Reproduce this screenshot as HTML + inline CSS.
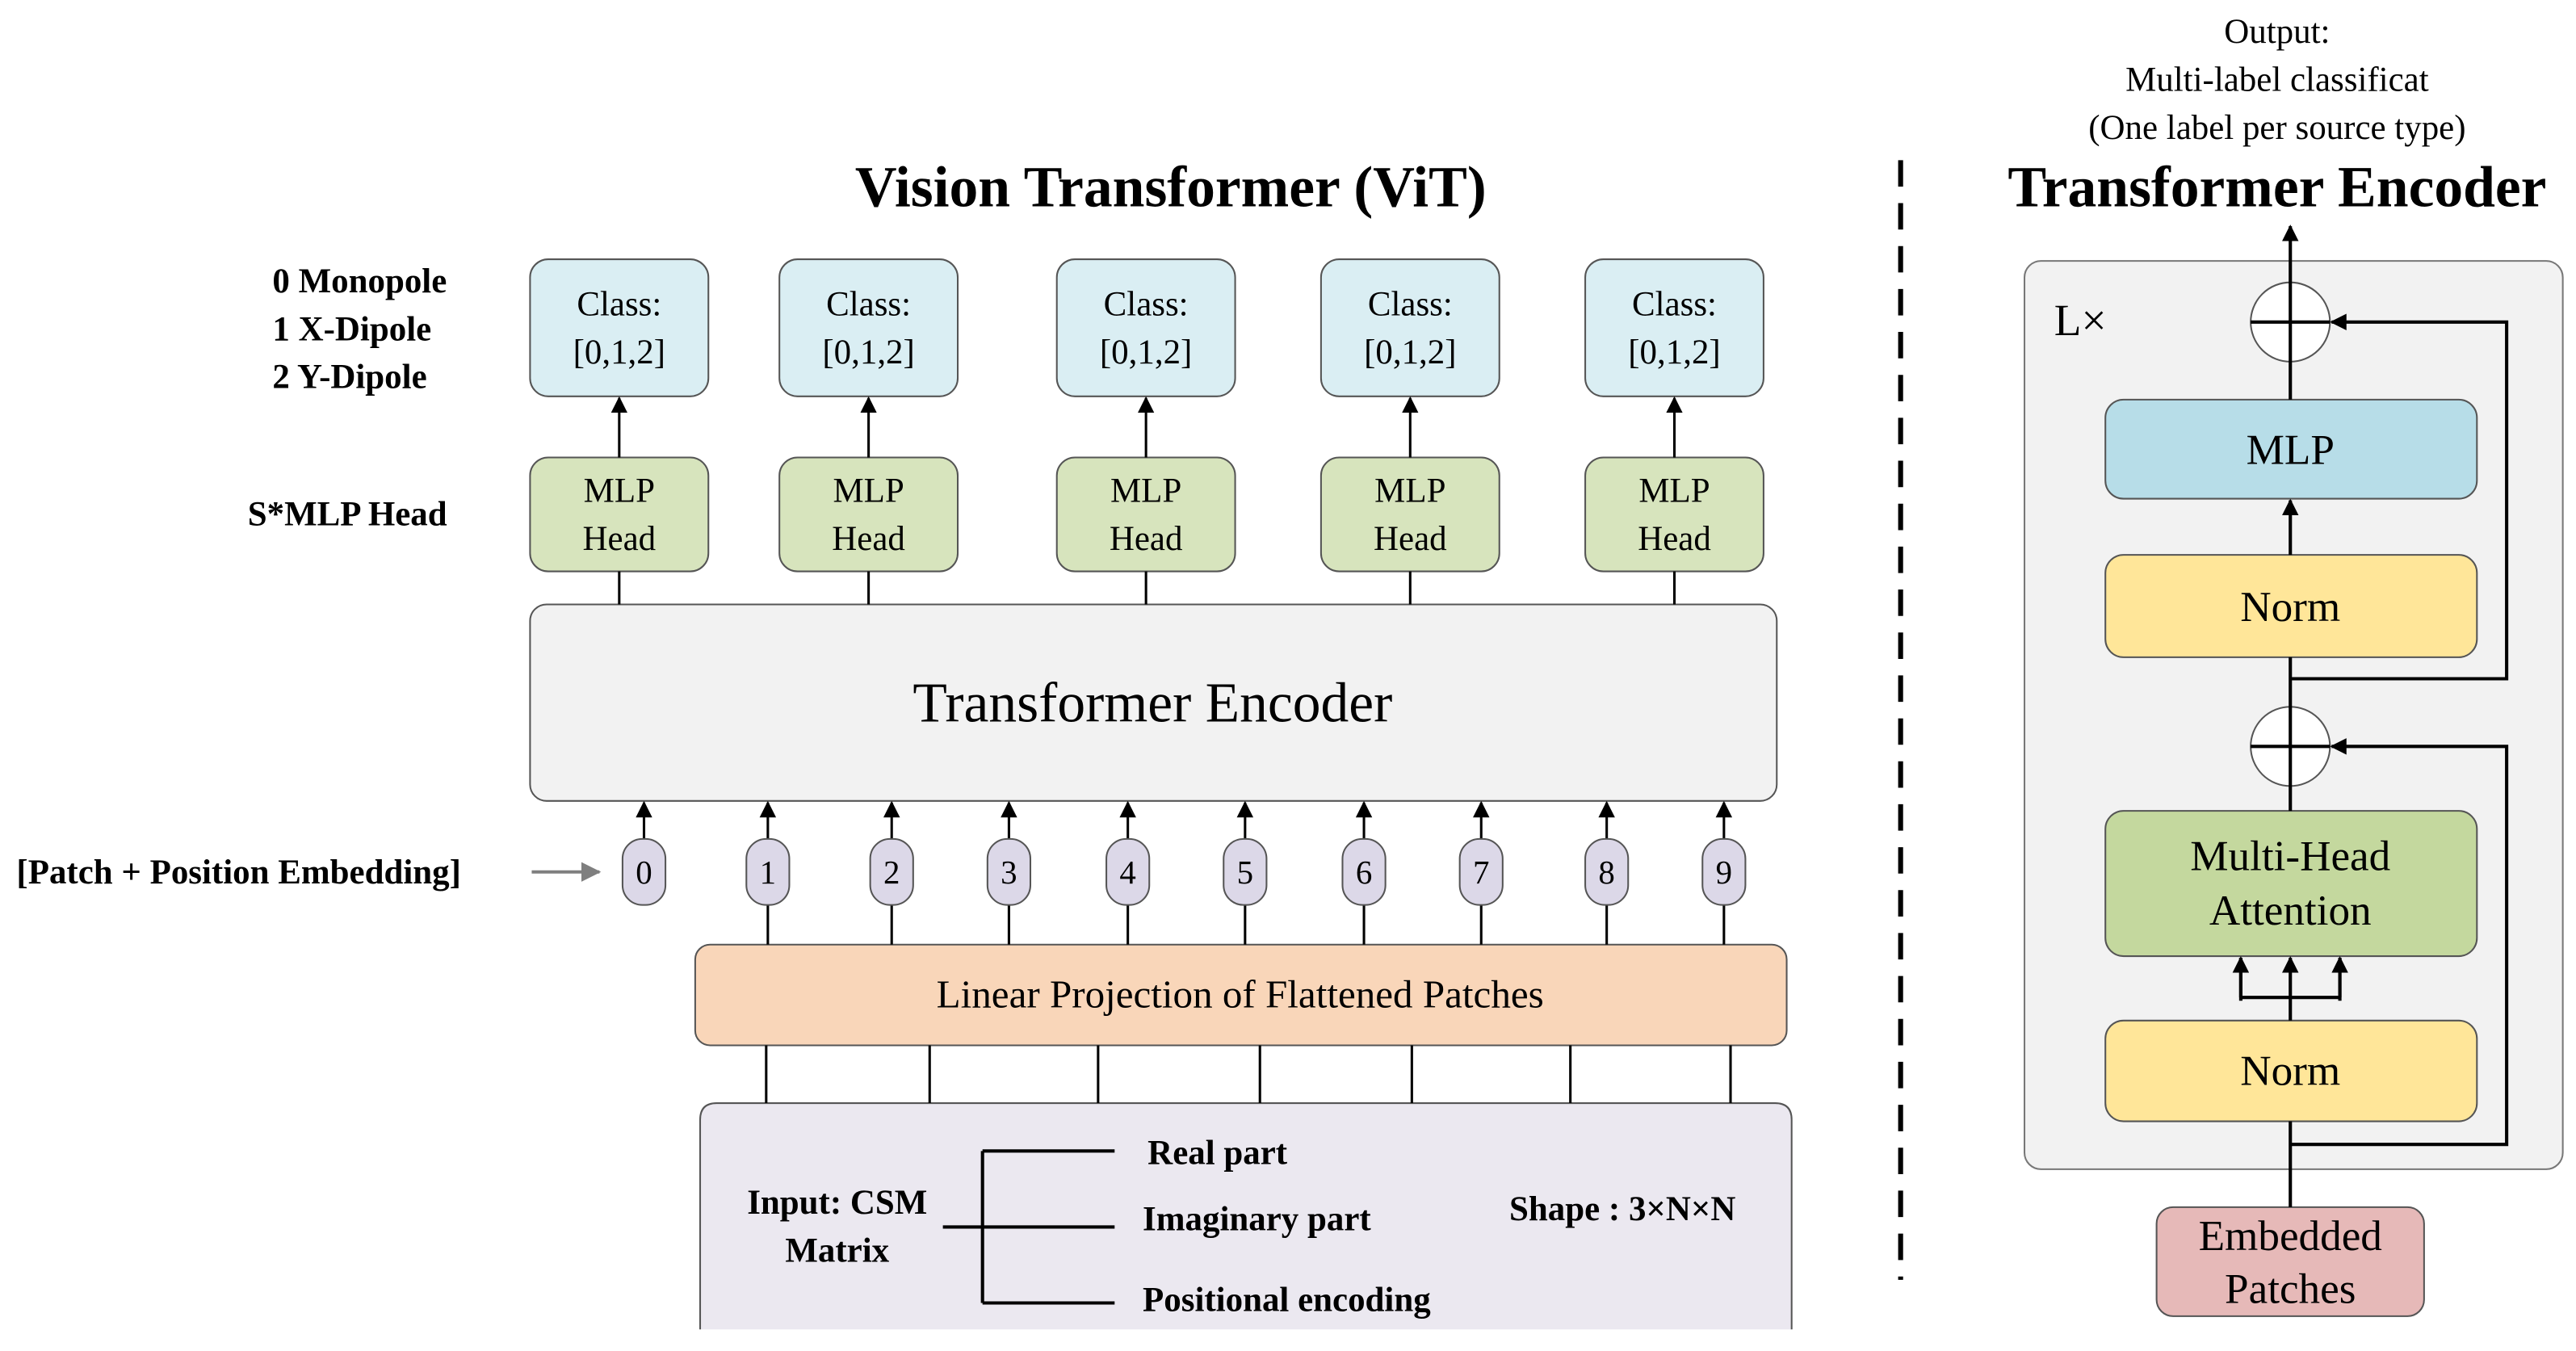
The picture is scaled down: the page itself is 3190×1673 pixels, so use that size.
<!DOCTYPE html>
<html><head><meta charset="utf-8"><style>html,body{margin:0;padding:0;background:#fff}svg{display:block}</style></head>
<body>
<svg width="3190" height="1673" viewBox="0 0 1560 818.1" preserveAspectRatio="none" xmlns="http://www.w3.org/2000/svg" font-family="'Liberation Serif', serif">
<defs>
<marker id="a" markerWidth="10" markerHeight="10" refX="9" refY="5" orient="auto" markerUnits="userSpaceOnUse"><path d="M0,0 L10,5 L0,10 z" fill="#000"/></marker>
<marker id="g" markerWidth="12" markerHeight="12" refX="11" refY="6" orient="auto" markerUnits="userSpaceOnUse"><path d="M0,0 L12,6 L0,12 z" fill="#7f7f7f"/></marker>
</defs>
<rect width="1560" height="818.1" fill="#fff"/>
<!-- titles -->
<text x="709" y="125" font-size="35" font-weight="bold" text-anchor="middle">Vision Transformer (ViT)</text>
<text x="1379" y="125" font-size="35" font-weight="bold" text-anchor="middle">Transformer Encoder</text>
<g font-size="21" text-anchor="middle">
<text x="1379" y="26">Output:</text>
<text x="1379" y="55">Multi-label classificat</text>
<text x="1379" y="84">(One label per source type)</text>
</g>
<line x1="1151" y1="97" x2="1151" y2="775" stroke="#000" stroke-width="3" stroke-dasharray="16,10"/>
<!-- left labels -->
<g font-size="21" font-weight="bold">
<text x="165" y="177">0 Monopole</text>
<text x="165" y="206">1 X-Dipole</text>
<text x="165" y="235">2 Y-Dipole</text>
<text x="150" y="318">S*MLP Head</text>
<text x="10" y="535">[Patch + Position Embedding]</text>
</g>
<line x1="322" y1="528" x2="363" y2="528" stroke="#7f7f7f" stroke-width="2" marker-end="url(#g)"/>
<!-- class + heads -->
<g stroke="#555" stroke-width="1">
<g fill="#daeef3">
<rect x="321" y="157" width="108" height="83" rx="11"/>
<rect x="472" y="157" width="108" height="83" rx="11"/>
<rect x="640" y="157" width="108" height="83" rx="11"/>
<rect x="800" y="157" width="108" height="83" rx="11"/>
<rect x="960" y="157" width="108" height="83" rx="11"/>
</g>
<g fill="#d7e4bd">
<rect x="321" y="277" width="108" height="69" rx="11"/>
<rect x="472" y="277" width="108" height="69" rx="11"/>
<rect x="640" y="277" width="108" height="69" rx="11"/>
<rect x="800" y="277" width="108" height="69" rx="11"/>
<rect x="960" y="277" width="108" height="69" rx="11"/>
</g>
<rect x="321" y="366" width="755" height="119" rx="10" fill="#f2f2f2"/>
<rect x="421" y="572" width="661" height="61" rx="9" fill="#f9d6b9"/>
<path d="M424,805 L424,678 Q424,668 434,668 L1075,668 Q1085,668 1085,678 L1085,805" fill="#ebe8f0"/>
</g>
<g font-size="21" text-anchor="middle">
<text x="375" y="191">Class:</text><text x="375" y="220">[0,1,2]</text>
<text x="526" y="191">Class:</text><text x="526" y="220">[0,1,2]</text>
<text x="694" y="191">Class:</text><text x="694" y="220">[0,1,2]</text>
<text x="854" y="191">Class:</text><text x="854" y="220">[0,1,2]</text>
<text x="1014" y="191">Class:</text><text x="1014" y="220">[0,1,2]</text>
<text x="375" y="304">MLP</text><text x="375" y="333">Head</text>
<text x="526" y="304">MLP</text><text x="526" y="333">Head</text>
<text x="694" y="304">MLP</text><text x="694" y="333">Head</text>
<text x="854" y="304">MLP</text><text x="854" y="333">Head</text>
<text x="1014" y="304">MLP</text><text x="1014" y="333">Head</text>
</g>
<text x="698" y="437" font-size="34" text-anchor="middle">Transformer Encoder</text>
<text x="751" y="610" font-size="24" text-anchor="middle">Linear Projection of Flattened Patches</text>
<g stroke="#000" stroke-width="1.5">
<line x1="375" y1="277" x2="375" y2="241" marker-end="url(#a)"/>
<line x1="526" y1="277" x2="526" y2="241" marker-end="url(#a)"/>
<line x1="694" y1="277" x2="694" y2="241" marker-end="url(#a)"/>
<line x1="854" y1="277" x2="854" y2="241" marker-end="url(#a)"/>
<line x1="1014" y1="277" x2="1014" y2="241" marker-end="url(#a)"/>
<line x1="375" y1="346" x2="375" y2="366"/>
<line x1="526" y1="346" x2="526" y2="366"/>
<line x1="694" y1="346" x2="694" y2="366"/>
<line x1="854" y1="346" x2="854" y2="366"/>
<line x1="1014" y1="346" x2="1014" y2="366"/>
</g>
<!-- tokens -->
<g id="toks" font-size="20" text-anchor="middle">
<g stroke="#000" stroke-width="1.5">
<line x1="390" y1="508" x2="390" y2="486" marker-end="url(#a)"/>
<line x1="465" y1="508" x2="465" y2="486" marker-end="url(#a)"/><line x1="465" y1="548" x2="465" y2="572"/>
<line x1="540" y1="508" x2="540" y2="486" marker-end="url(#a)"/><line x1="540" y1="548" x2="540" y2="572"/>
<line x1="611" y1="508" x2="611" y2="486" marker-end="url(#a)"/><line x1="611" y1="548" x2="611" y2="572"/>
<line x1="683" y1="508" x2="683" y2="486" marker-end="url(#a)"/><line x1="683" y1="548" x2="683" y2="572"/>
<line x1="754" y1="508" x2="754" y2="486" marker-end="url(#a)"/><line x1="754" y1="548" x2="754" y2="572"/>
<line x1="826" y1="508" x2="826" y2="486" marker-end="url(#a)"/><line x1="826" y1="548" x2="826" y2="572"/>
<line x1="897" y1="508" x2="897" y2="486" marker-end="url(#a)"/><line x1="897" y1="548" x2="897" y2="572"/>
<line x1="973" y1="508" x2="973" y2="486" marker-end="url(#a)"/><line x1="973" y1="548" x2="973" y2="572"/>
<line x1="1044" y1="508" x2="1044" y2="486" marker-end="url(#a)"/><line x1="1044" y1="548" x2="1044" y2="572"/>
</g>
<g fill="#dcd8e8" stroke="#555" stroke-width="1">
<rect x="377" y="508" width="26" height="40" rx="12"/>
<rect x="452" y="508" width="26" height="40" rx="12"/>
<rect x="527" y="508" width="26" height="40" rx="12"/>
<rect x="598" y="508" width="26" height="40" rx="12"/>
<rect x="670" y="508" width="26" height="40" rx="12"/>
<rect x="741" y="508" width="26" height="40" rx="12"/>
<rect x="813" y="508" width="26" height="40" rx="12"/>
<rect x="884" y="508" width="26" height="40" rx="12"/>
<rect x="960" y="508" width="26" height="40" rx="12"/>
<rect x="1031" y="508" width="26" height="40" rx="12"/>
</g>
<text x="390" y="535">0</text><text x="465" y="535">1</text><text x="540" y="535">2</text><text x="611" y="535">3</text><text x="683" y="535">4</text><text x="754" y="535">5</text><text x="826" y="535">6</text><text x="897" y="535">7</text><text x="973" y="535">8</text><text x="1044" y="535">9</text>
</g>
<g stroke="#000" stroke-width="1.5">
<line x1="464" y1="633" x2="464" y2="668"/><line x1="563" y1="633" x2="563" y2="668"/><line x1="665" y1="633" x2="665" y2="668"/><line x1="763" y1="633" x2="763" y2="668"/><line x1="855" y1="633" x2="855" y2="668"/><line x1="951" y1="633" x2="951" y2="668"/><line x1="1048" y1="633" x2="1048" y2="668"/>
<path d="M571,743 H675 M595,697 V789 M595,697 H675 M595,789 H675" fill="none" stroke-width="2"/>
</g>
<g font-size="21" font-weight="bold">
<text x="507" y="735" text-anchor="middle">Input: CSM</text>
<text x="507" y="764" text-anchor="middle">Matrix</text>
<text x="695" y="705">Real part</text>
<text x="692" y="745">Imaginary part</text>
<text x="692" y="794">Positional encoding</text>
<text x="914" y="739">Shape : 3×N×N</text>
</g>
<!-- right panel -->
<rect x="1226" y="158" width="326" height="550" rx="10" fill="#f2f2f2" stroke="#777" stroke-width="1"/>
<text x="1244" y="203" font-size="27">L×</text>
<g stroke="#555" stroke-width="1">
<rect x="1275" y="242" width="225" height="60" rx="11" fill="#b7dde8"/>
<rect x="1275" y="336" width="225" height="62" rx="11" fill="#ffe699"/>
<rect x="1275" y="491" width="225" height="88" rx="11" fill="#c4d89e"/>
<rect x="1275" y="618" width="225" height="61" rx="11" fill="#ffe699"/>
<rect x="1306" y="731" width="162" height="66" rx="10" fill="#e6b9b8"/>
<circle cx="1387" cy="195" r="24" fill="#fff"/>
<circle cx="1387" cy="452" r="24" fill="#fff"/>
</g>
<g stroke="#000" stroke-width="2" fill="none">
<line x1="1387" y1="242" x2="1387" y2="137" marker-end="url(#a)"/>
<line x1="1363" y1="195" x2="1411" y2="195"/>
<path d="M1387,411 H1518 V195 H1412" marker-end="url(#a)"/>
<line x1="1387" y1="336" x2="1387" y2="303" marker-end="url(#a)"/>
<line x1="1387" y1="398" x2="1387" y2="491"/>
<line x1="1363" y1="452" x2="1411" y2="452"/>
<path d="M1387,693 H1518 V452 H1412" marker-end="url(#a)"/>
<line x1="1387" y1="731" x2="1387" y2="679"/>
<line x1="1387" y1="618" x2="1387" y2="580" marker-end="url(#a)"/>
<path d="M1357,606 V580 M1417,606 V580 M1357,604 H1417"/>
<line x1="1357" y1="604" x2="1357" y2="580" marker-end="url(#a)"/>
<line x1="1417" y1="604" x2="1417" y2="580" marker-end="url(#a)"/>
</g>
<g font-size="26" text-anchor="middle">
<text x="1387" y="281">MLP</text>
<text x="1387" y="376">Norm</text>
<text x="1387" y="527">Multi-Head</text>
<text x="1387" y="560">Attention</text>
<text x="1387" y="657">Norm</text>
<text x="1387" y="757">Embedded</text>
<text x="1387" y="789">Patches</text>
</g>
</svg>
</body></html>
